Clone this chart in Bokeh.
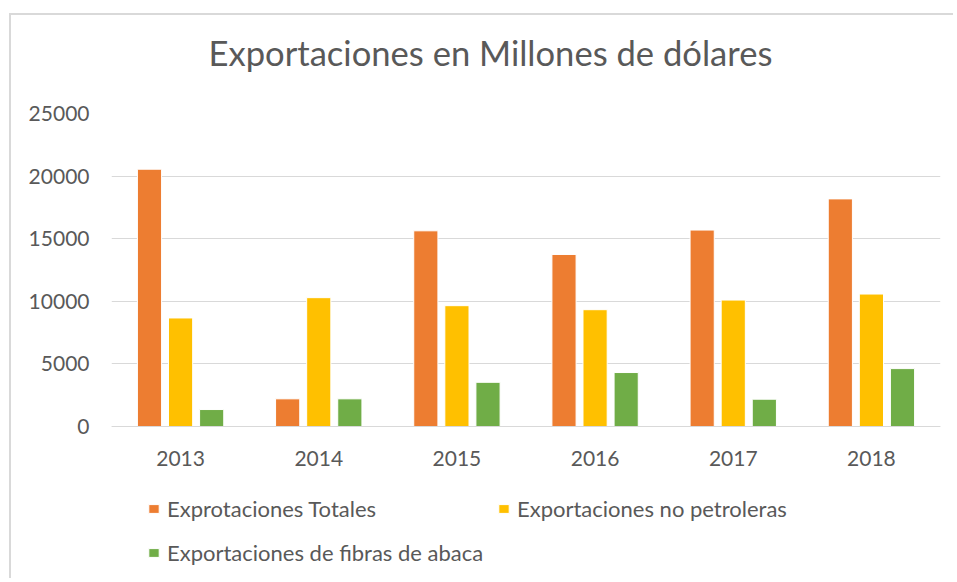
from bokeh.plotting import figure
from bokeh.models import (ColumnDataSource, FactorRange, Range1d, FixedTicker,
                          Legend, LegendItem, Title, CategoricalAxis)
from bokeh.transform import dodge
from bokeh.embed import file_html
from bokeh.resources import INLINE

years = ["2013", "2014", "2015", "2016", "2017", "2018"]
totales = [20550, 2210, 15630, 13740, 15690, 18180]
no_petroleras = [8670, 10290, 9650, 9330, 10100, 10580]
fibras_abaca = [1355, 2210, 3530, 4310, 2180, 4625]
y_ticks = [0, 5000, 10000, 15000, 20000, 25000]

series_names = ["Exprotaciones Totales", "Exportaciones no petroleras",
                "Exportaciones de fibras de abaca"]
colors = ["#ED7D31", "#FFC000", "#70AD47"]

FONT = "Lato"
TXT = "#595959"
GRID = "#D9D9D9"

src = ColumnDataSource(dict(year=years, t=totales, n=no_petroleras, f=fibras_abaca))

# frame extends below the zero line so the legend can sit inside it
p = figure(width=944, height=565, x_range=FactorRange(*years),
           y_range=Range1d(-12300, 25000), output_backend="svg",
           toolbar_location=None, tools="", x_axis_location=None)
p.styles = {"border-left": "2px solid #D9D9D9", "border-top": "2px solid #D9D9D9",
            "margin-left": "9px", "margin-top": "13px"}
p.min_border_left = 100
p.min_border_right = 15
p.min_border_top = 98
p.min_border_bottom = 0
p.outline_line_color = None
p.background_fill_color = "white"
p.border_fill_color = "white"

p.title = Title(text="Exportaciones en Millones de dólares", align="left", offset=97,
                vertical_align="top",
                text_font=FONT, text_font_size="34.6px", text_font_style="normal",
                text_color=TXT, standoff=20)
# empty spacer between the title and the plotting area
p.add_layout(Title(text=" ", text_font_size="1px", standoff=26), "above")

renderers = []
for col, off, c in zip(["t", "n", "f"], [-0.225, 0.0, 0.225], colors):
    r = p.vbar(x=dodge("year", off, range=p.x_range), top=col, width=0.175,
               source=src, fill_color=c, line_color="white", line_width=1)
    renderers.append(r)

p.xgrid.grid_line_color = None
p.ygrid.grid_line_color = GRID
p.ygrid.grid_line_width = 1
p.yaxis.ticker = FixedTicker(ticks=y_ticks)

xaxis = CategoricalAxis(fixed_location=0)
p.add_layout(xaxis, "below")

for ax in (xaxis, p.yaxis[0]):
    ax.major_tick_line_color = None
    ax.minor_tick_line_color = None
    ax.major_label_text_font = FONT
    ax.major_label_text_font_size = "21px"
    ax.major_label_text_color = TXT
p.yaxis.axis_line_color = None
xaxis.axis_line_color = GRID
p.yaxis.major_label_standoff = 16
xaxis.major_label_standoff = 18

locs = [(36, 58), (386, 58), (36, 14)]
for r, name, loc in zip(renderers, series_names, locs):
    lg = Legend(items=[LegendItem(label=name, renderers=[r])], location=loc,
                padding=0, margin=0, spacing=0, border_line_color=None,
                background_fill_alpha=0, glyph_width=13, glyph_height=11,
                label_standoff=7, label_height=20,
                label_text_font=FONT, label_text_font_size="22px",
                label_text_color=TXT)
    p.add_layout(lg, "center")

open("out.html", "w").write(file_html(p, INLINE))
